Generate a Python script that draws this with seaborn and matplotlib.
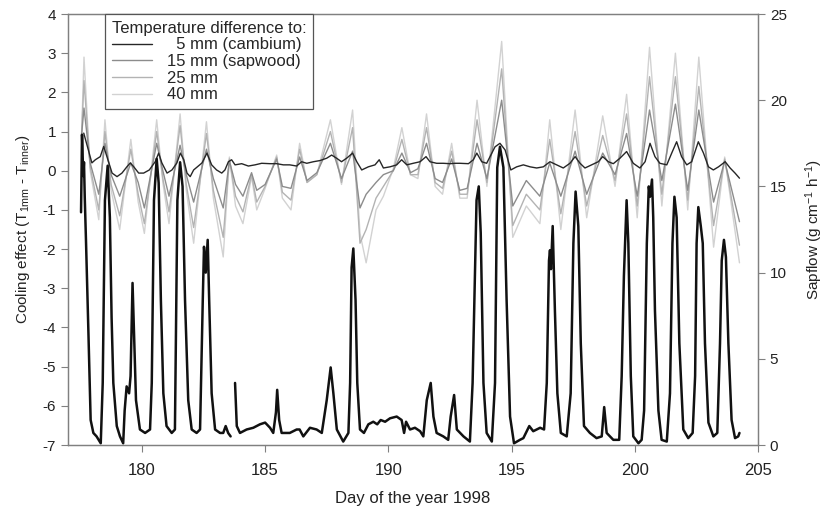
import numpy as np
import pandas as pd
import seaborn as sns
import matplotlib.pyplot as plt
from matplotlib import font_manager

# ---- data ---------------------------------------------------------------
# sapflow (right axis), two segments (logger gap around day 183.7)
sap_day_a = [177.53, 177.57, 177.62, 177.65, 177.68, 177.73, 177.83, 177.92, 178.03, 178.16,
             178.33, 178.41, 178.5, 178.61, 178.7, 178.77, 178.84, 178.98, 179.11, 179.24,
             179.3, 179.38, 179.48, 179.54, 179.62, 179.68, 179.76, 179.92, 180.13, 180.33,
             180.4, 180.49, 180.6, 180.68, 180.77, 180.87, 181.0, 181.21, 181.34, 181.44,
             181.55, 181.65, 181.75, 181.88, 182.02, 182.22, 182.36, 182.47, 182.52, 182.59,
             182.67, 182.73, 182.83, 182.97, 183.17, 183.3, 183.4, 183.5, 183.6]
sap_flow_a = [13.5, 18.0, 15.6, 16.4, 14.4, 11.9, 6.5, 1.45, 0.7, 0.5,
              0.1, 3.6, 14.2, 16.2, 13.2, 7.4, 3.6, 1.1, 0.5, 0.1,
              2.0, 3.4, 3.0, 4.0, 9.4, 6.5, 2.6, 0.9, 0.7, 0.9,
              3.6, 14.2, 16.6, 15.2, 8.4, 3.0, 1.1, 0.7, 0.9, 14.2,
              16.4, 15.0, 8.4, 2.6, 0.9, 0.7, 0.9, 8.4, 11.5, 10.0,
              11.9, 8.4, 3.0, 0.9, 0.7, 0.7, 1.1, 0.7, 0.5]
sap_day_b = [183.78, 183.85, 183.98, 184.25, 184.52, 184.79, 185.0, 185.2, 185.33, 185.44,
             185.49, 185.57, 185.67, 186.0, 186.28, 186.4, 186.55, 186.82, 187.09, 187.3,
             187.5, 187.66, 187.77, 187.91, 188.17, 188.38, 188.45, 188.51, 188.58, 188.67,
             188.74, 188.85, 189.01, 189.19, 189.39, 189.55, 189.69, 189.87, 190.07, 190.34,
             190.54, 190.64, 190.72, 190.88, 191.08, 191.29, 191.42, 191.56, 191.72, 191.83,
             191.96, 192.23, 192.43, 192.53, 192.67, 192.78, 193.05, 193.31, 193.42, 193.58,
             193.67, 193.75, 193.86, 193.99, 194.2, 194.33, 194.42, 194.53, 194.67, 194.8,
             194.94, 195.1, 195.34, 195.48, 195.72, 195.88, 196.16, 196.32, 196.43, 196.52,
             196.56, 196.6, 196.67, 196.76, 196.86, 197.0, 197.24, 197.4, 197.51, 197.6,
             197.71, 197.81, 197.94, 198.18, 198.45, 198.66, 198.76, 198.86, 199.13, 199.37,
             199.47, 199.56, 199.67, 199.74, 199.84, 199.94, 200.15, 200.28, 200.38, 200.49,
             200.57, 200.62, 200.7, 200.75, 200.82, 200.96, 201.09, 201.3, 201.43, 201.53,
             201.61, 201.7, 201.81, 201.97, 202.17, 202.35, 202.45, 202.51, 202.58, 202.68,
             202.76, 202.85, 202.99, 203.19, 203.35, 203.46, 203.53, 203.62, 203.7, 203.8,
             203.93, 204.07, 204.2, 204.25]
sap_flow_b = [3.6, 1.1, 0.7, 0.9, 1.0, 1.2, 1.3, 1.0, 0.7, 1.9,
              3.2, 1.45, 0.7, 0.7, 0.9, 0.9, 0.5, 1.0, 0.9, 0.7,
              2.6, 4.5, 3.0, 0.9, 0.2, 0.7, 3.6, 10.3, 11.4, 8.4,
              3.6, 0.9, 0.7, 1.2, 1.35, 1.2, 1.45, 1.35, 1.55, 1.65,
              1.45, 0.7, 1.35, 0.9, 1.0, 0.8, 0.5, 2.6, 3.6, 1.65,
              0.7, 0.5, 0.3, 1.65, 2.9, 0.9, 0.5, 0.2, 3.6, 14.2,
              15.0, 12.3, 3.6, 0.7, 0.2, 3.6, 16.1, 17.3, 16.1, 8.4,
              1.65, 0.1, 0.3, 0.4, 1.1, 0.8, 1.0, 0.9, 3.6, 10.7,
              11.3, 10.2, 12.7, 7.8, 3.0, 0.7, 0.5, 3.0, 11.7, 14.7,
              12.7, 5.9, 1.1, 0.7, 0.4, 0.5, 2.2, 0.7, 0.3, 0.3,
              4.0, 9.8, 14.2, 11.7, 4.0, 0.5, 0.1, 0.3, 2.0, 11.7,
              15.0, 14.4, 15.4, 13.2, 7.8, 2.0, 0.3, 0.2, 3.0, 11.7,
              14.4, 13.2, 5.9, 0.9, 0.4, 0.7, 4.0, 11.7, 13.8, 12.7,
              11.7, 5.9, 1.3, 0.5, 0.7, 5.9, 10.7, 11.9, 10.9, 5.9,
              1.45, 0.4, 0.5, 0.7]

# 5 mm (cambium) temperature difference (left axis)
cam_day = [177.64, 177.97, 178.11, 178.31, 178.45, 178.58, 178.79, 178.99, 179.19, 179.39,
           179.53, 179.67, 179.87, 180.07, 180.3, 180.54, 180.68, 180.81, 181.02, 181.22,
           181.42, 181.56, 181.7, 181.83, 181.96, 182.1, 182.44, 182.64, 182.83, 183.03,
           183.24, 183.37, 183.51, 183.64, 183.78, 184.05, 184.32, 184.59, 184.86, 185.2,
           185.47, 185.74, 186.0, 186.28, 186.48, 186.69, 186.96, 187.23, 187.5, 187.7,
           187.9, 188.1, 188.31, 188.55, 188.72, 188.92, 189.19, 189.46, 189.63, 189.8,
           190.07, 190.34, 190.54, 190.75, 191.01, 191.29, 191.53, 191.69, 191.96, 192.23,
           192.5, 192.71, 192.91, 193.25, 193.45, 193.59, 193.79, 193.99, 194.33, 194.53,
           194.74, 194.97, 195.21, 195.48, 195.75, 196.02, 196.29, 196.56, 196.83, 197.1,
           197.37, 197.58, 197.78, 197.98, 198.25, 198.52, 198.7, 198.93, 199.13, 199.4,
           199.67, 199.94, 200.21, 200.42, 200.62, 200.82, 201.02, 201.3, 201.5, 201.7,
           201.9, 202.11, 202.31, 202.58, 202.79, 202.99, 203.19, 203.4, 203.67, 203.87,
           204.07, 204.25]
cam_val = [0.96, 0.2, 0.28, 0.36, 0.62, 0.36, -0.06, -0.15, -0.06, 0.1,
           0.2, 0.1, -0.06, -0.06, 0.02, 0.23, 0.45, 0.2, -0.06, 0.02,
           0.2, 0.45, 0.28, -0.06, -0.15, 0.02, 0.2, 0.45, 0.15, 0.02,
           -0.06, 0.02, 0.23, 0.28, 0.15, 0.18, 0.12, 0.15, 0.19, 0.18,
           0.18, 0.15, 0.15, 0.12, 0.23, 0.19, 0.23, 0.26, 0.32, 0.4,
           0.32, 0.23, 0.32, 0.45, 0.23, 0.02, 0.1, 0.15, 0.28, 0.07,
           0.1, 0.15, 0.28, 0.15, 0.19, 0.23, 0.36, 0.23, 0.19, 0.19,
           0.18, 0.19, 0.19, 0.18, 0.28, 0.45, 0.23, 0.19, 0.61, 0.7,
           0.53, 0.02, 0.1, 0.15, 0.1, 0.07, 0.1, 0.23, 0.15, 0.07,
           0.19, 0.36, 0.19, 0.07, 0.15, 0.23, 0.36, 0.23, 0.18, 0.32,
           0.49, 0.19, 0.07, 0.23, 0.7, 0.36, 0.19, 0.15, 0.45, 0.74,
           0.36, 0.15, 0.23, 0.74, 0.45, 0.1, 0.02, 0.1, 0.23, 0.07,
           -0.06, -0.19]

# 15, 25 and 40 mm share one set of read-off days
deep_day = [177.55, 177.65, 177.9, 178.25, 178.5, 178.75, 179.1, 179.55, 179.85, 180.1,
            180.6, 180.85, 181.1, 181.55, 181.8, 182.1, 182.62, 182.9, 183.3, 183.55,
            183.8, 184.1, 184.45, 184.66, 185.0, 185.47, 185.7, 186.05, 186.4, 186.7,
            187.1, 187.65, 188.1, 188.55, 188.85, 189.1, 189.5, 189.8, 190.2, 190.55,
            190.9, 191.2, 191.55, 191.9, 192.2, 192.57, 192.9, 193.2, 193.6, 194.0,
            194.6, 195.05, 195.6, 196.15, 196.55, 197.0, 197.58, 198.05, 198.7, 199.2,
            199.67, 200.1, 200.6, 201.1, 201.65, 202.15, 202.6, 203.2, 203.65, 204.25]
sap15_val = [0.9, 1.6, 0.2, -0.6, 0.7, -0.1, -0.65, 0.2, -0.3, -0.95,
             0.7, 0.0, -0.65, 0.65, -0.1, -0.8, 0.55, -0.2, -0.95, 0.25,
             -0.35, -0.65, -0.05, -0.5, -0.35, 0.3, -0.4, -0.45, 0.35, -0.25,
             -0.05, 0.7, -0.2, 0.5, -0.95, -0.6, -0.3, -0.1, 0.0, 0.45,
             -0.05, 0.05, 0.7, -0.2, -0.3, 0.3, -0.5, -0.45, 0.7, -0.2,
             1.8, -0.9, -0.25, -0.65, 0.2, -0.65, 0.5, -0.6, 0.45, -0.1,
             0.95, -0.65, 1.55, -0.25, 1.7, -0.5, 1.55, -0.8, 0.25, -1.3]
d25_val = [0.9, 2.3, 0.1, -1.0, 1.0, -0.35, -1.15, 0.55, -0.6, -1.35,
           1.0, -0.2, -1.05, 1.15, -0.35, -1.45, 0.95, -0.5, -1.7, 0.3,
           -0.65, -1.05, -0.1, -0.8, -0.4, 0.35, -0.55, -0.75, 0.55, -0.3,
           -0.1, 1.0, -0.3, 1.1, -1.85, -1.5, -0.7, -0.4, 0.0, 0.8,
           -0.1, -0.1, 1.1, -0.3, -0.45, 0.5, -0.6, -0.6, 1.3, -0.3,
           2.6, -1.4, -0.6, -1.0, 0.8, -1.1, 1.0, -0.9, 0.9, -0.25,
           1.45, -0.9, 2.4, -0.6, 2.4, -0.75, 2.15, -1.4, 0.3, -1.9]
d40_val = [0.9, 2.9, 0.0, -1.25, 1.3, -0.5, -1.5, 0.8, -0.8, -1.6,
           1.3, -0.3, -1.35, 1.45, -0.5, -1.85, 1.25, -0.7, -2.2, 0.35,
           -0.9, -1.35, -0.15, -1.0, -0.45, 0.4, -0.7, -1.0, 0.7, -0.3,
           -0.1, 1.3, -0.35, 1.55, -1.6, -2.35, -1.0, -0.65, 0.05, 1.1,
           -0.1, -0.2, 1.45, -0.4, -0.6, 0.7, -0.7, -0.7, 1.8, -0.4,
           3.3, -1.7, -0.9, -1.35, 1.3, -1.5, 1.55, -1.2, 1.4, -0.4,
           1.95, -1.2, 3.15, -0.9, 3.0, -1.0, 2.9, -1.95, 0.35, -2.35]

labels = ['  5 mm (cambium)', '15 mm (sapwood)', '25 mm', '40 mm']
x_ticks = [180, 185, 190, 195, 200, 205]

# ---- style ---------------------------------------------------------------
sns.set_style('ticks')
names = {f.name for f in font_manager.fontManager.ttflist}
base = 'Liberation Sans' if 'Liberation Sans' in names else 'DejaVu Sans'
narrow = 'Liberation Sans Narrow' if 'Liberation Sans Narrow' in names else base
plt.rcParams['font.family'] = [base, 'DejaVu Sans']
plt.rcParams['mathtext.default'] = 'regular'
plt.rcParams['axes.unicode_minus'] = False
plt.rcParams['axes.edgecolor'] = '#808080'
plt.rcParams['axes.linewidth'] = 0.9
plt.rcParams['xtick.color'] = '#808080'
plt.rcParams['ytick.color'] = '#808080'

fig = plt.figure(figsize=(8.3, 5.15), dpi=100)
ax = fig.add_axes([0.0819, 0.1359, 0.8313, 0.8369])
ax2 = ax.twinx()

cam = pd.DataFrame({'day': cam_day, 'val': cam_val})
deep = pd.DataFrame({'day': deep_day, 's15': sap15_val, 'd25': d25_val, 'd40': d40_val})
sap_a = pd.DataFrame({'day': sap_day_a, 'flow': sap_flow_a})
sap_b = pd.DataFrame({'day': sap_day_b, 'flow': sap_flow_b})

# lightest first so darker ones sit on top
sns.lineplot(data=deep, x='day', y='d40', ax=ax, color='#d2d2d2', lw=1.0, estimator=None, sort=False, label=labels[3])
sns.lineplot(data=deep, x='day', y='d25', ax=ax, color='#b3b3b3', lw=1.0, estimator=None, sort=False, label=labels[2])
sns.lineplot(data=deep, x='day', y='s15', ax=ax, color='#8c8c8c', lw=1.0, estimator=None, sort=False, label=labels[1])
sns.lineplot(data=cam, x='day', y='val', ax=ax, color='#262626', lw=1.0, estimator=None, sort=False, label=labels[0])

sns.lineplot(data=sap_a, x='day', y='flow', ax=ax2, color='#111111', lw=1.8, estimator=None, sort=False)
sns.lineplot(data=sap_b, x='day', y='flow', ax=ax2, color='#111111', lw=1.8, estimator=None, sort=False)

ax.set_xlim(177, 205)
ax.set_ylim(-7, 4)
ax2.set_ylim(0, 25)
ax.set_xticks(x_ticks)
ax.set_yticks(range(-7, 5))
ax2.set_yticks(range(0, 26, 5))

for a in (ax, ax2):
    a.tick_params(labelcolor='#222222', labelsize=11, length=5, width=0.8)
    for s in a.spines.values():
        s.set_visible(True)
ax.tick_params(axis='x', pad=8)
for t in ax.get_xticklabels():
    t.set_family(narrow)
    t.set_fontsize(12)

ax.set_xlabel('Day of the year 1998', fontsize=12, family=narrow, color='#222222', labelpad=9)
ax.set_ylabel(r'Cooling effect (T$_{1mm}$ - T$_{inner}$)', fontsize=11, color='#222222', labelpad=8)
ax2.set_ylabel(r'Sapflow (g cm$^{-1}$ h$^{-1}$)', fontsize=11, color='#222222', labelpad=12)

# legend in cambium -> deep order, drawn on the top axes
h, l = ax.get_legend_handles_labels()
ax.get_legend().remove()
order = [labels.index(x) for x in l]
pairs = sorted(zip(order, h, l))
leg = ax2.legend([p[1] for p in pairs], [p[2] for p in pairs],
                 title='Temperature difference to:', loc='upper left',
                 bbox_to_anchor=(0.054, 1.0), borderaxespad=0, fontsize=12,
                 title_fontsize=12, alignment='left', fancybox=False,
                 framealpha=1, edgecolor='#555555', labelspacing=0.1,
                 handlelength=2.4, handletextpad=0.9, borderpad=0.4)
leg.get_frame().set_linewidth(0.9)

fig.savefig('out.png', dpi=100)
